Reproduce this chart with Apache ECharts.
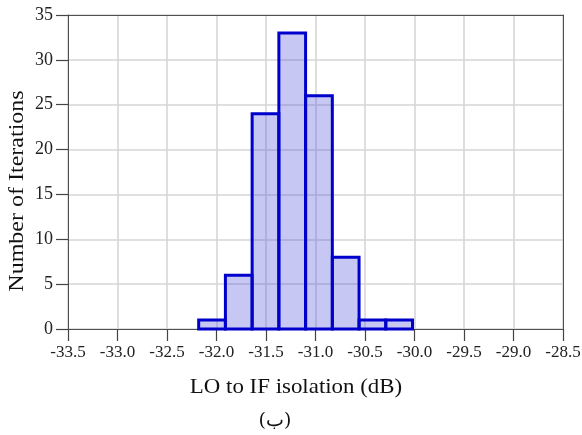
<!DOCTYPE html>
<html>
<head>
<meta charset="utf-8">
<style>
  html, body { margin: 0; padding: 0; background: #ffffff; }
  #chart { width: 582px; height: 435px; }
</style>
<script src="https://cdn.jsdelivr.net/npm/echarts@6/dist/echarts.min.js"></script>
</head>
<body>
<div id="chart"></div>
<script>
// Histogram bin edges (dB) and the number of iterations falling in each bin
const binEdges = [-32.18, -31.91, -31.64, -31.37, -31.10, -30.83, -30.56, -30.29, -30.02];
const binCounts = [1, 6, 24, 33, 26, 8, 1, 1];

const xTicks = { min: -33.5, max: -28.5, step: 0.5 };
const yTicks = { min: 0, max: 35, step: 5 };

const xTitle = 'LO to IF isolation (dB)';
const yTitle = 'Number of Iterations';
const caption = '(ب)';

const bins = binCounts.map((c, i) => [binEdges[i], binEdges[i + 1], c]);

const chart = echarts.init(document.getElementById('chart'), null, { renderer: 'canvas' });

const serif = '"Liberation Serif", "DejaVu Serif", serif';
const frameColor = '#505050';
const gridColor = '#d6d6d6';

// Frame-only axes closing the plot box on the top and right
const frameAxis = {
  show: true,
  axisLine: { show: true, onZero: false, lineStyle: { color: frameColor, width: 1 } },
  axisTick: { show: false },
  axisLabel: { show: false },
  splitLine: { show: false }
};

chart.setOption({
  animation: false,
  backgroundColor: '#ffffff',
  grid: { left: 68, right: 19, top: 15, bottom: 106, outerBoundsMode: 'none', containLabel: false },
  xAxis: [{
    type: 'value',
    min: xTicks.min, max: xTicks.max, interval: xTicks.step,
    axisLine: { show: true, onZero: false, lineStyle: { color: frameColor, width: 1 } },
    axisTick: { show: true, inside: false, length: 12, lineStyle: { color: '#444444', width: 1.2 } },
    axisLabel: {
      color: '#222222', fontFamily: serif, fontSize: 17, margin: 15,
      formatter: v => v.toFixed(1), showMinLabel: true, showMaxLabel: true
    },
    splitLine: { show: true, lineStyle: { color: gridColor, width: 1.6 } }
  }, Object.assign({
    type: 'value', position: 'top',
    min: xTicks.min, max: xTicks.max, interval: xTicks.step
  }, frameAxis)],
  yAxis: [{
    type: 'value',
    min: yTicks.min, max: yTicks.max, interval: yTicks.step,
    axisLine: { show: true, onZero: false, lineStyle: { color: frameColor, width: 1 } },
    axisTick: { show: true, inside: false, length: 12, lineStyle: { color: '#444444', width: 1.2 } },
    axisLabel: { color: '#222222', fontFamily: serif, fontSize: 18, margin: 15 },
    splitLine: { show: true, lineStyle: { color: gridColor, width: 1.6 } }
  }, Object.assign({
    type: 'value', position: 'right',
    min: yTicks.min, max: yTicks.max, interval: yTicks.step
  }, frameAxis)],
  graphic: [
    {
      type: 'text', x: 296, y: 387, scaleX: 1.09,
      style: { text: xTitle, font: '21px ' + serif, fill: '#111111', align: 'center', verticalAlign: 'middle' }
    },
    {
      type: 'text', x: 275, y: 421,
      style: { text: caption, font: '19px "DejaVu Serif", serif', fill: '#111111', align: 'center', verticalAlign: 'middle' }
    },
    {
      type: 'text', x: 18, y: 191, rotation: Math.PI / 2, scaleX: 1.2,
      style: { text: yTitle, font: '20px ' + serif, fill: '#111111', align: 'center', verticalAlign: 'middle' }
    }
  ],
  series: [{
    type: 'custom',
    data: bins,
    encode: { x: [0, 1], y: 2 },
    clip: false,
    renderItem: (params, api) => {
      const p0 = api.coord([api.value(0), 0]);
      const p1 = api.coord([api.value(1), api.value(2)]);
      return {
        type: 'rect',
        shape: { x: p0[0], y: p1[1], width: p1[0] - p0[0], height: p0[1] - p1[1] },
        style: {
          fill: 'rgba(70, 70, 220, 0.30)',
          stroke: '#0000cc',
          lineWidth: 3
        }
      };
    }
  }]
});
</script>
</body>
</html>
